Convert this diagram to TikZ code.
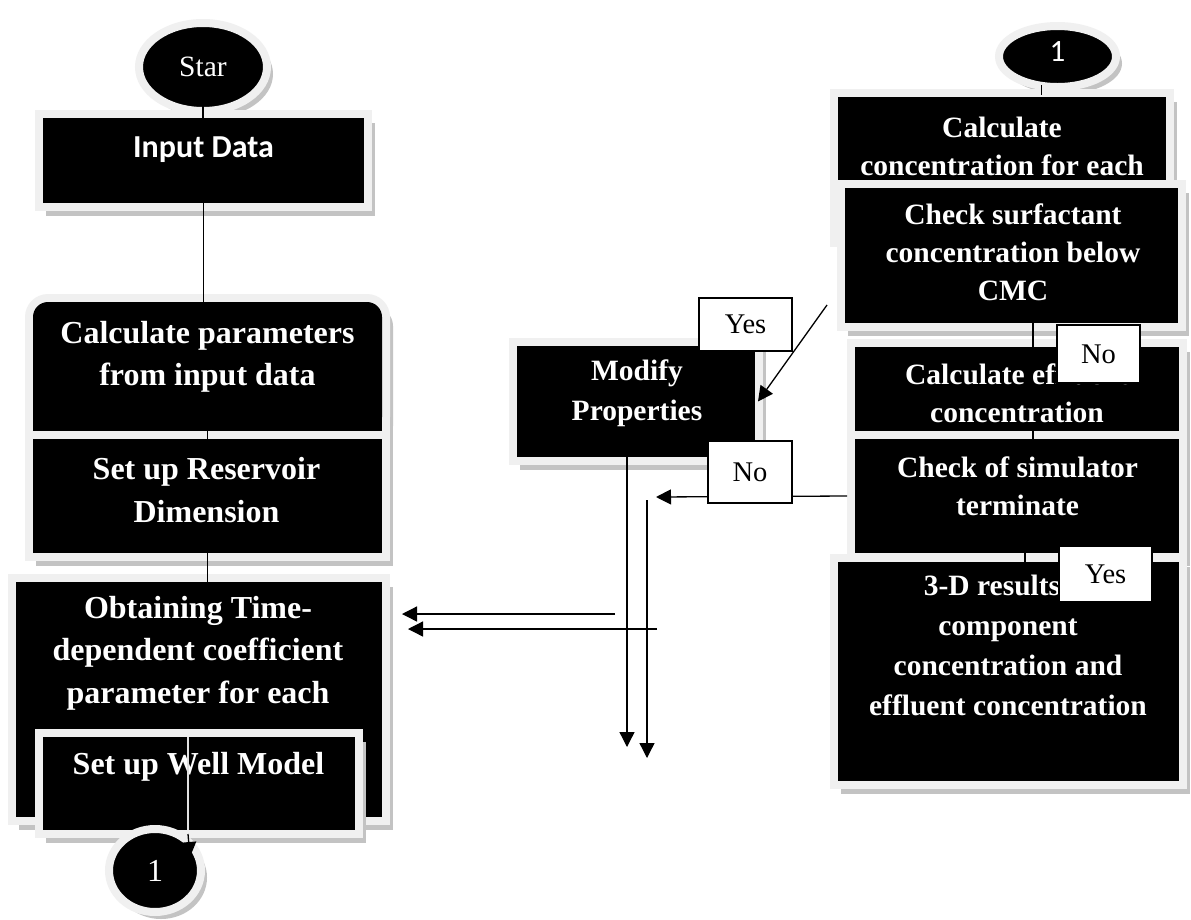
\documentclass[tikz,border=0pt]{standalone}
\usepackage{fontspec}
\setmainfont{Liberation Serif}
\newfontfamily\calfont{Carlito}
\usetikzlibrary{shapes.geometric,arrows.meta,shadows}
\definecolor{framegray}{RGB}{240,240,240}
\definecolor{shadegray}{RGB}{195,195,195}
\definecolor{lightline}{RGB}{225,225,225}
\begin{document}
\begin{tikzpicture}[x=1pt,y=-1pt,
  blk/.style={rectangle, fill=black, draw=framegray, line width=8pt, inner sep=0,
    drop shadow={shadow xshift=7pt, shadow yshift=-9pt, fill=shadegray, opacity=1}},
  ell/.style={ellipse, fill=black, draw=framegray, line width=8pt, inner sep=0, text=white,
    drop shadow={shadow xshift=6pt, shadow yshift=-7pt, fill=shadegray, opacity=1}},
  txt/.style={text=white, align=center, inner sep=0, font=\bfseries\fontsize{32}{42.5}\selectfont},
  txtr/.style={text=white, align=center, inner sep=0, font=\bfseries\fontsize{29.5}{38}\selectfont},
  lab/.style={rectangle, draw=black, line width=1.2pt, fill=white, inner sep=0, font=\fontsize{28.5}{30}\selectfont},
  conn/.style={line width=1.3pt, draw=black},
  arr/.style={line width=1.3pt, draw=black, -{Triangle[length=15pt,width=15pt]}}
]
\useasboundingbox (0,0) rectangle (1191,919);
\fill[white] (0,0) rectangle (1191,919);

% ---------- left column ----------
\node[ell, minimum width=128, minimum height=88, font=\fontsize{29.5}{30}\selectfont] (star) at (203,67) {Star};
\node[blk, minimum width=329, minimum height=93] (input) at (203.5,160.5) {};
\node[txt, font=\calfont\bfseries\fontsize{32}{38}\selectfont] (inputt) at (203.5,150) {Input Data};

% calc box with rounded top corners
\fill[shadegray, rounded corners=19pt] (36,307) rectangle (393,445);
\fill[shadegray] (36,380) rectangle (393,445);
\fill[framegray, rounded corners=23pt] (25,294) rectangle (390,440);
\fill[framegray] (25,380) rectangle (390,440);
\fill[black, rounded corners=15pt] (33,302) rectangle (382,432);
\fill[black] (33,380) rectangle (382,432);
\node[inner sep=0, outer sep=0, minimum width=365, minimum height=146] (calc) at (207.5,367) {};
\node[txt] (calct) at (207.5,357) {Calculate parameters\\from input data};

\node[blk, minimum width=357, minimum height=122] (setres) at (207.5,496) {};
\node[txt] (setrest) at (206.5,490) {Set up Reservoir\\Dimension};

\node[blk, minimum width=374, minimum height=243] (obtain) at (199,699.5) {};
\node[txt] (obtaint) at (198,653) {Obtaining Time-\\dependent coefficient\\parameter for each};

\node[blk, minimum width=320, minimum height=101] (well) at (199,783.5) {};
\node[txt] (wellt) at (198.5,767) {Set up Well Model};

\node[ell, minimum width=92, minimum height=83, font=\fontsize{32}{34}\selectfont] (c1b) at (155,870.5) {1};

% left connectors
\draw[conn] ([yshift=10pt]star.south) -- ([yshift=-10pt]star.south |- input.north);
\draw[conn] ([yshift=8pt]input.south) -- ([yshift=-8pt]input.south |- calc.north);
\draw[conn] ([yshift=10pt]calc.south) -- ([yshift=-10pt]calc.south |- setres.north);
\draw[conn] ([yshift=8pt]setres.south) -- ([yshift=-8pt]setres.south |- obtain.north);
\draw[line width=1.3pt, draw=lightline] ([xshift=-11pt,yshift=-8pt]well.north) -- ([xshift=-11pt,yshift=8pt]well.south);
\coordinate (wtip) at (190,857);
\draw[arr] ([xshift=-11pt,yshift=4pt]well.south) -- (wtip);

% ---------- right column ----------
\node[ell, minimum width=117, minimum height=61] (c1t) at (1057.5,56.5) {};
\node[text=white, inner sep=0, font=\calfont\fontsize{31}{32}\selectfont] (c1tt) at (1057.5,52) {1};
\node[blk, minimum width=336, minimum height=150] (cconc) at (1002,168) {};
\node[txtr] (cconct) at (1002,146) {Calculate\\concentration for each};
\node[blk, minimum width=341, minimum height=143] (check) at (1011.5,255.5) {};
\node[txtr] (checkt) at (1013,252) {Check surfactant\\concentration below\\CMC};
\node[blk, minimum width=332, minimum height=92] (ceff) at (1017,389) {};
\node[txtr] (cefft) at (1017,393) {Calculate effluent\\concentration};
\node[blk, minimum width=332, minimum height=122] (csim) at (1017,496) {};
\node[txtr] (csimt) at (1017.5,486) {Check of simulator\\terminate};
\node[blk, minimum width=349, minimum height=227] (res3d) at (1008.5,671.5) {};
\node[txtr, font=\bfseries\fontsize{29.5}{40}\selectfont] (res3dt) at (1008,645) {3-D results\phantom{ of}\\component\\concentration and\\effluent concentration};

\node[blk, minimum width=246, minimum height=119] (modify) at (636,401.5) {};
\node[txtr, font=\bfseries\fontsize{29.5}{40}\selectfont] (modifyt) at (637,393) {Modify\\Properties};

% right connectors
\draw[conn] ([xshift=-16pt,yshift=6pt]c1t.south) -- ([xshift=-16pt,yshift=-6pt]c1t.south |- cconc.north);
\draw[conn] ([xshift=21.5pt,yshift=8pt]check.south) -- ([xshift=21.5pt,yshift=-8pt]check.south |- ceff.north);
\draw[conn] ([xshift=16pt,yshift=8pt]ceff.south) -- ([xshift=16pt,yshift=-8pt]ceff.south |- csim.north);
\draw[conn] ([xshift=8pt,yshift=8pt]csim.south) -- ([xshift=8pt,yshift=-8pt]csim.south |- res3d.north);

\coordinate (d1) at (827,305);
\draw[arr] (d1) -- ([xshift=-5pt]modify.east);
\coordinate (a1) at (656,497);
\draw[arr] (csim.west) -- (a1);
\coordinate (m1) at (627,747);
\draw[arr] ([xshift=-9pt,yshift=8pt]modify.south) -- (m1);
\coordinate (v2a) at (647,500);
\coordinate (v2b) at (647,758);
\draw[arr] (v2a) -- (v2b);
\coordinate (h1a) at (615,614);
\coordinate (h1b) at (402,614);
\draw[arr] (h1a) -- (h1b);
\coordinate (h2a) at (657,629);
\coordinate (h2b) at (408,629);
\draw[arr] (h2a) -- (h2b);

% labels
\node[lab, minimum width=93, minimum height=53] (yes1) at (745.5,324.5) {Yes};
\node[lab, minimum width=84, minimum height=62] (no1) at (750,472) {No};
\node[lab, minimum width=83, minimum height=58] (no2) at (1098.5,354) {No};
\node[lab, minimum width=93, minimum height=56] (yes2) at (1105.5,574) {Yes};
\end{tikzpicture}
\end{document}
